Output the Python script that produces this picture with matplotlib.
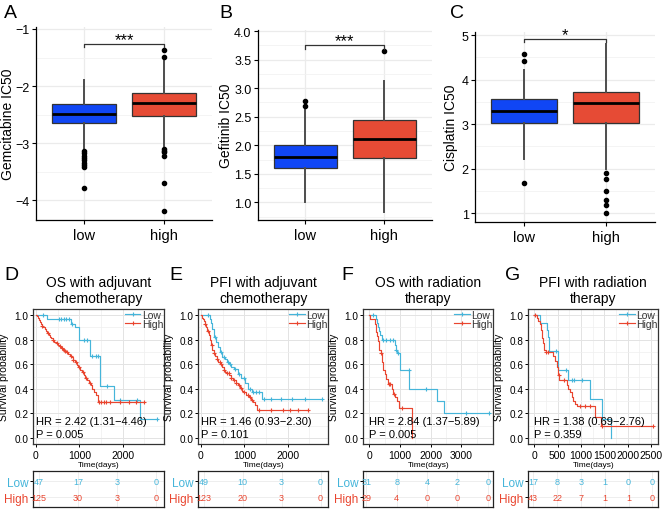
import numpy as np
import matplotlib.pyplot as plt
from matplotlib.lines import Line2D

plt.rcParams['font.family'] = ['Liberation Sans', 'DejaVu Sans']

W, H = 667, 510

# ---------------- IC50 box plots (summaries) ----------------
groups = ['low', 'high']
box_colors = ['#1046F5', '#E64B35']

gem_low = dict(q1=-2.64, med=-2.49, q3=-2.315, whislo=-3.08, whishi=-1.89,
               fliers=[-3.14, -3.18, -3.22, -3.26, -3.30, -3.35, -3.39, -3.42, -3.78])
gem_high = dict(q1=-2.52, med=-2.30, q3=-2.13, whislo=-3.05, whishi=-1.57,
                fliers=[-1.36, -1.49, -3.11, -3.14, -3.16, -3.22, -3.70, -4.20])
gef_low = dict(q1=1.60, med=1.80, q3=2.01, whislo=1.01, whishi=2.62, fliers=[2.68, 2.78])
gef_high = dict(q1=1.78, med=2.11, q3=2.44, whislo=0.83, whishi=3.13, fliers=[3.65])
cis_low = dict(q1=3.02, med=3.305, q3=3.575, whislo=2.22, whishi=4.21,
               fliers=[4.42, 4.57, 1.685])
cis_high = dict(q1=3.02, med=3.475, q3=3.725, whislo=2.00, whishi=4.80,
                fliers=[1.90, 1.775, 1.50, 1.29, 1.18, 1.01])

# ---------------- Kaplan-Meier curves (step points) ----------------
D_low_t = [0, 250, 800, 900, 1000, 1240, 1480, 1790, 2400, 2800]
D_low_s = [1.0, 0.965, 0.93, 0.905, 0.80, 0.67, 0.42, 0.31, 0.155, 0.155]
D_low_cens = [170, 520, 580, 640, 700, 760, 830, 1100, 1170, 1290, 1380, 1440, 1630, 1950, 2330, 2800]
D_high_t = [0, 20, 45, 70, 95, 120, 145, 170, 200, 230, 260, 290, 320, 350, 385, 420, 460, 500,
            540, 580, 620, 660, 700, 740, 780, 820, 860, 900, 940, 980, 1020, 1060, 1100, 1140,
            1180, 1220, 1260, 1300, 1340, 1380, 1420, 2500]
D_high_s = [1.0, 0.99, 0.975, 0.96, 0.945, 0.93, 0.915, 0.90, 0.885, 0.87, 0.855, 0.84, 0.825,
            0.815, 0.80, 0.785, 0.77, 0.755, 0.745, 0.735, 0.72, 0.71, 0.70, 0.685, 0.67, 0.655,
            0.635, 0.615, 0.595, 0.575, 0.555, 0.535, 0.515, 0.49, 0.47, 0.45, 0.43, 0.40, 0.375,
            0.35, 0.29, 0.29]
D_high_cens = [150, 280, 400, 480, 560, 600, 640, 680, 720, 800, 860, 920, 1000, 1080, 1150, 1250,
               1450, 1500, 1560, 1620, 1700, 1950, 2150, 2300, 2500]

E_low_t = [0, 210, 235, 265, 300, 340, 400, 440, 480, 560, 600, 640, 700, 760, 850, 920, 1010,
           1090, 1170, 1400, 2800]
E_low_s = [1.0, 0.97, 0.94, 0.89, 0.82, 0.78, 0.74, 0.70, 0.66, 0.64, 0.62, 0.60, 0.58, 0.56, 0.52,
           0.49, 0.45, 0.40, 0.37, 0.32, 0.32]
E_low_cens = [170, 330, 460, 520, 620, 680, 780, 880, 1000, 1130, 1200, 1260, 1330, 1450, 1620,
              1850, 2100, 2400, 2800]
E_high_t = [0, 20, 40, 60, 90, 120, 150, 180, 200, 230, 260, 290, 320, 360, 400, 440, 480, 520, 560,
            600, 650, 700, 750, 800, 850, 900, 950, 1000, 1050, 1100, 1150, 1200, 1240, 1290, 2480]
E_high_s = [1.0, 0.98, 0.965, 0.95, 0.93, 0.90, 0.87, 0.84, 0.80, 0.76, 0.72, 0.69, 0.67, 0.645,
            0.62, 0.60, 0.575, 0.555, 0.54, 0.525, 0.51, 0.49, 0.47, 0.45, 0.43, 0.41, 0.385, 0.37,
            0.35, 0.33, 0.31, 0.29, 0.27, 0.225, 0.225]
E_high_cens = [100, 160, 250, 310, 380, 430, 470, 540, 600, 640, 700, 760, 820, 880, 930, 1000,
               1080, 1130, 1180, 1350, 1620, 1900, 2050, 2250, 2480]

F_low_t = [0, 217, 250, 280, 310, 340, 420, 830, 870, 910, 990, 1310, 2200, 2440, 3900]
F_low_s = [1.0, 0.97, 0.935, 0.90, 0.87, 0.835, 0.80, 0.76, 0.72, 0.69, 0.55, 0.40, 0.30, 0.20, 0.20]
F_low_cens = [130, 450, 560, 670, 760, 880, 940, 1280, 1850, 3150, 3900]
F_high_t = [0, 10, 185, 217, 261, 293, 326, 369, 402, 456, 510, 560, 619, 728, 782, 825, 890,
            977, 1380]
F_high_s = [1.0, 0.966, 0.93, 0.86, 0.83, 0.79, 0.72, 0.69, 0.62, 0.55, 0.52, 0.48, 0.44, 0.40,
            0.36, 0.33, 0.30, 0.24, 0.0]
F_high_cens = [369, 640, 690, 800, 1050]

G_low_t = [0, 121, 264, 300, 314, 500, 714, 1193, 1457, 1643]
G_low_s = [1.0, 0.94, 0.88, 0.82, 0.705, 0.55, 0.47, 0.315, 0.155, 0.0]
G_low_cens = [464, 679, 814, 850, 1029]
G_high_t = [0, 50, 86, 121, 143, 157, 171, 193, 214, 243, 407, 443, 478, 500, 528, 693, 728, 764,
            800, 835, 871, 907, 1300, 1428, 2550]
G_high_s = [1.0, 0.977, 0.955, 0.93, 0.88, 0.84, 0.81, 0.77, 0.72, 0.70, 0.67, 0.63, 0.58, 0.51,
            0.47, 0.43, 0.40, 0.37, 0.33, 0.30, 0.28, 0.26, 0.17, 0.10, 0.10]
G_high_cens = [20, 260, 300, 520, 640, 980, 1090, 1190, 1450, 2550]

# numbers at risk
D_risk_t, D_risk_low, D_risk_high = [0, 1000, 2000, 3000], [47, 17, 3, 0], [125, 30, 3, 0]
E_risk_t, E_risk_low, E_risk_high = [0, 1000, 2000, 3000], [49, 10, 3, 0], [123, 20, 3, 0]
F_risk_t, F_risk_low, F_risk_high = [0, 1000, 2000, 3000, 4000], [31, 8, 4, 2, 0], [29, 4, 0, 0, 0]
G_risk_t = [0, 500, 1000, 1500, 2000, 2500]
G_risk_low, G_risk_high = [17, 8, 3, 1, 0, 0], [43, 22, 7, 1, 1, 0]

km_low_color, km_high_color = '#45B5DA', '#E9452F'

fig = plt.figure(figsize=(W / 100, H / 100), dpi=100)


def px_axes(x0, y0, x1, y1):
    return fig.add_axes([x0 / W, 1 - y1 / H, (x1 - x0) / W, (y1 - y0) / H])


def box_panel(box, stats, ylabel, ylim, major, minor, bracket_y, tip, stars, label_x):
    ax = px_axes(*box)
    bp = ax.bxp(stats, positions=[1, 2], widths=0.8, patch_artist=True, showcaps=False,
                boxprops=dict(edgecolor='#333333', linewidth=0.9),
                medianprops=dict(color='black', linewidth=2.0),
                whiskerprops=dict(color='#4D4D4D', linewidth=1.4),
                flierprops=dict(marker='o', markerfacecolor='black', markeredgecolor='black',
                                markersize=3.0))
    for patch, c in zip(bp['boxes'], box_colors):
        patch.set_facecolor(c)
    ax.plot([1, 1, 2, 2], [bracket_y - tip, bracket_y, bracket_y, bracket_y - tip],
            color='#333333', lw=0.9)
    ax.text(1.5, bracket_y, stars, ha='center', va='baseline', fontsize=12)
    ax.set_xlim(0.4, 2.6)
    ax.set_ylim(ylim)
    ax.set_xticks([1, 2])
    ax.set_xticklabels(groups)
    ax.set_yticks(major)
    ax.set_yticks(minor, minor=True)
    ax.grid(which='major', color='#EBEBEB', lw=0.9)
    ax.grid(which='minor', axis='y', color='#F2F2F2', lw=0.6)
    ax.set_axisbelow(True)
    for s in ['top', 'right']:
        ax.spines[s].set_visible(False)
    for s in ['left', 'bottom']:
        ax.spines[s].set_linewidth(0.9)
    ax.tick_params(which='minor', length=0)
    ax.tick_params(axis='y', length=3, width=0.8, labelsize=9, pad=1.5)
    ax.tick_params(axis='x', length=3, width=0.8, labelsize=10.5, pad=3)
    ax.set_ylabel(ylabel, fontsize=10, va='center')
    ax.yaxis.set_label_coords(label_x, 0.5)
    return ax


box_panel((36, 28, 212, 221), [gem_low, gem_high], 'Gemcitabine IC50', (-4.35, -0.965),
          [-4, -3, -2, -1], [-3.5, -2.5, -1.5], -1.26, 0.058, '***', -0.158)
box_panel((257.7, 31, 431.7, 221), [gef_low, gef_high], 'Gefitinib IC50', (0.69, 4.02),
          np.arange(1.0, 4.01, 0.5), np.arange(0.75, 4.0, 0.5), 3.75, 0.058, '***', -0.18)
box_panel((475, 33, 655, 222.7), [cis_low, cis_high], 'Cisplatin IC50', (0.81, 5.07),
          [1, 2, 3, 4, 5], [1.5, 2.5, 3.5, 4.5], 4.91, 0.075, '*', -0.135)


def km_curve(ax, t, s, cens, color):
    t = np.asarray(t, float)
    s = np.asarray(s, float)
    ax.step(t, s, where='post', color=color, lw=0.85)
    c = np.asarray(cens, float)
    idx = np.searchsorted(t, c, side='right') - 1
    ax.plot(c, s[idx], ls='none', marker='+', color=color, ms=3.5, mew=0.8)


def km_panel(x0, x1, title, curves, hr, p, xlim, xticks, xminor, risk_t, risk_low, risk_high,
             table_xlim):
    ax = px_axes(x0, 310, x1, 445)
    for t, s, c, col in curves:
        km_curve(ax, t, s, c, col)
    ax.set_xlim(xlim)
    ax.set_ylim(-0.05, 1.05)
    ax.set_xticks(xticks)
    ax.set_xticks(xminor, minor=True)
    ax.set_yticks(np.arange(0, 1.01, 0.2))
    ax.set_yticks(np.arange(0.1, 1.0, 0.2), minor=True)
    ax.set_yticklabels(['%.1f' % v for v in np.arange(0, 1.01, 0.2)])
    ax.grid(which='major', color='#E3E3E3', lw=0.7)
    ax.grid(which='minor', color='#EFEFEF', lw=0.5)
    ax.set_axisbelow(True)
    for s in ax.spines.values():
        s.set_color('#333333')
        s.set_linewidth(0.9)
    ax.tick_params(which='minor', length=0)
    ax.tick_params(which='major', length=2.5, width=0.7, labelsize=7.5, pad=1.5)
    ax.tick_params(axis='y', labelsize=7.2, pad=1)
    ax.set_ylabel('Survival probability', fontsize=7.5, va='center')
    ax.yaxis.set_label_coords(-0.225, 0.5)
    ax.set_xlabel('Time(days)', fontsize=6)
    ax.xaxis.set_label_coords(0.5, -0.125)
    ax.text(0.5, 1 + 19 / 135, title, transform=ax.transAxes, ha='center', va='center',
            fontsize=10, linespacing=1.15)
    ax.text(0, 0.14, hr, ha='left', va='center', fontsize=8)
    ax.text(0, 0.035, p, ha='left', va='center', fontsize=8)
    handles = [Line2D([], [], color=km_low_color, marker='+', lw=0.85, ms=3.5, mew=0.8),
               Line2D([], [], color=km_high_color, marker='+', lw=0.85, ms=3.5, mew=0.8)]
    leg = ax.legend(handles, ['Low', 'High'], loc='upper right', bbox_to_anchor=(0.995, 0.995),
                    frameon=False, fontsize=7.5, handlelength=1.5, handletextpad=0.15,
                    labelspacing=-0.1, borderpad=0, borderaxespad=0)
    for txt in leg.get_texts():
        txt.set_color('#333333')

    tab = px_axes(x0, 471.7, x1, 508.3)
    tab.set_xlim(table_xlim)
    tab.set_ylim(-0.63, 1.66)
    for x, n in zip(risk_t, risk_low):
        tab.text(x, 1, str(n), color=km_low_color, ha='center', va='center', fontsize=6.5)
    for x, n in zip(risk_t, risk_high):
        tab.text(x, 0, str(n), color=km_high_color, ha='center', va='center', fontsize=6.5)
    tab.set_xticks(risk_t)
    tab.set_xticklabels([])
    tab.set_yticks([1, 0])
    tab.set_yticklabels(['Low', 'High'], fontsize=8.5)
    for lab, c in zip(tab.get_yticklabels(), [km_low_color, km_high_color]):
        lab.set_color(c)
    tab.tick_params(axis='x', length=0)
    tab.tick_params(axis='y', length=2, width=0.7, pad=1.5)
    tab.grid(color='#EBEBEB', lw=0.6)
    tab.set_axisbelow(True)
    for s in tab.spines.values():
        s.set_color('#222222')
        s.set_linewidth(0.9)


km_panel(33.3, 164, 'OS with adjuvant\nchemotherapy',
         [(D_low_t, D_low_s, D_low_cens, km_low_color),
          (D_high_t, D_high_s, D_high_cens, km_high_color)],
         'HR = 2.42 (1.31\u22124.46)', 'P = 0.005', (-62, 2955), [0, 1000, 2000],
         [500, 1500, 2500], D_risk_t, D_risk_low, D_risk_high, (-146, 3205))
km_panel(198.3, 328.3, 'PFI with adjuvant\nchemotherapy',
         [(E_low_t, E_low_s, E_low_cens, km_low_color),
          (E_high_t, E_high_s, E_high_cens, km_high_color)],
         'HR = 1.46 (0.93\u22122.30)', 'P = 0.101', (-62, 2940), [0, 1000, 2000],
         [500, 1500, 2500], E_risk_t, E_risk_low, E_risk_high, (-140, 3200))
km_panel(363.3, 493.3, 'OS with radiation\ntherapy',
         [(F_low_t, F_low_s, F_low_cens, km_low_color),
          (F_high_t, F_high_s, F_high_cens, km_high_color)],
         'HR = 2.84 (1.37\u22125.89)', 'P = 0.005', (-195, 4040), [0, 1000, 2000, 3000],
         [500, 1500, 2500, 3500], F_risk_t, F_risk_low, F_risk_high, (-100, 4180))
km_panel(528.3, 658.3, 'PFI with radiation\ntherapy',
         [(G_low_t, G_low_s, G_low_cens, km_low_color),
          (G_high_t, G_high_s, G_high_cens, km_high_color)],
         'HR = 1.38 (0.69\u22122.76)', 'P = 0.359', (-128, 2655), [0, 500, 1000, 1500, 2000, 2500],
         [250, 750, 1250, 1750, 2250], G_risk_t, G_risk_low, G_risk_high, (-105, 2626))

# panel letters
for letter, x, y in [('A', 10, 14), ('B', 226, 14), ('C', 457, 13), ('D', 11, 276),
                     ('E', 176, 276), ('F', 347, 276), ('G', 513, 276)]:
    fig.text(x / W, 1 - y / H, letter, fontsize=14, ha='center', va='center')

fig.savefig('out.png', dpi=100)
